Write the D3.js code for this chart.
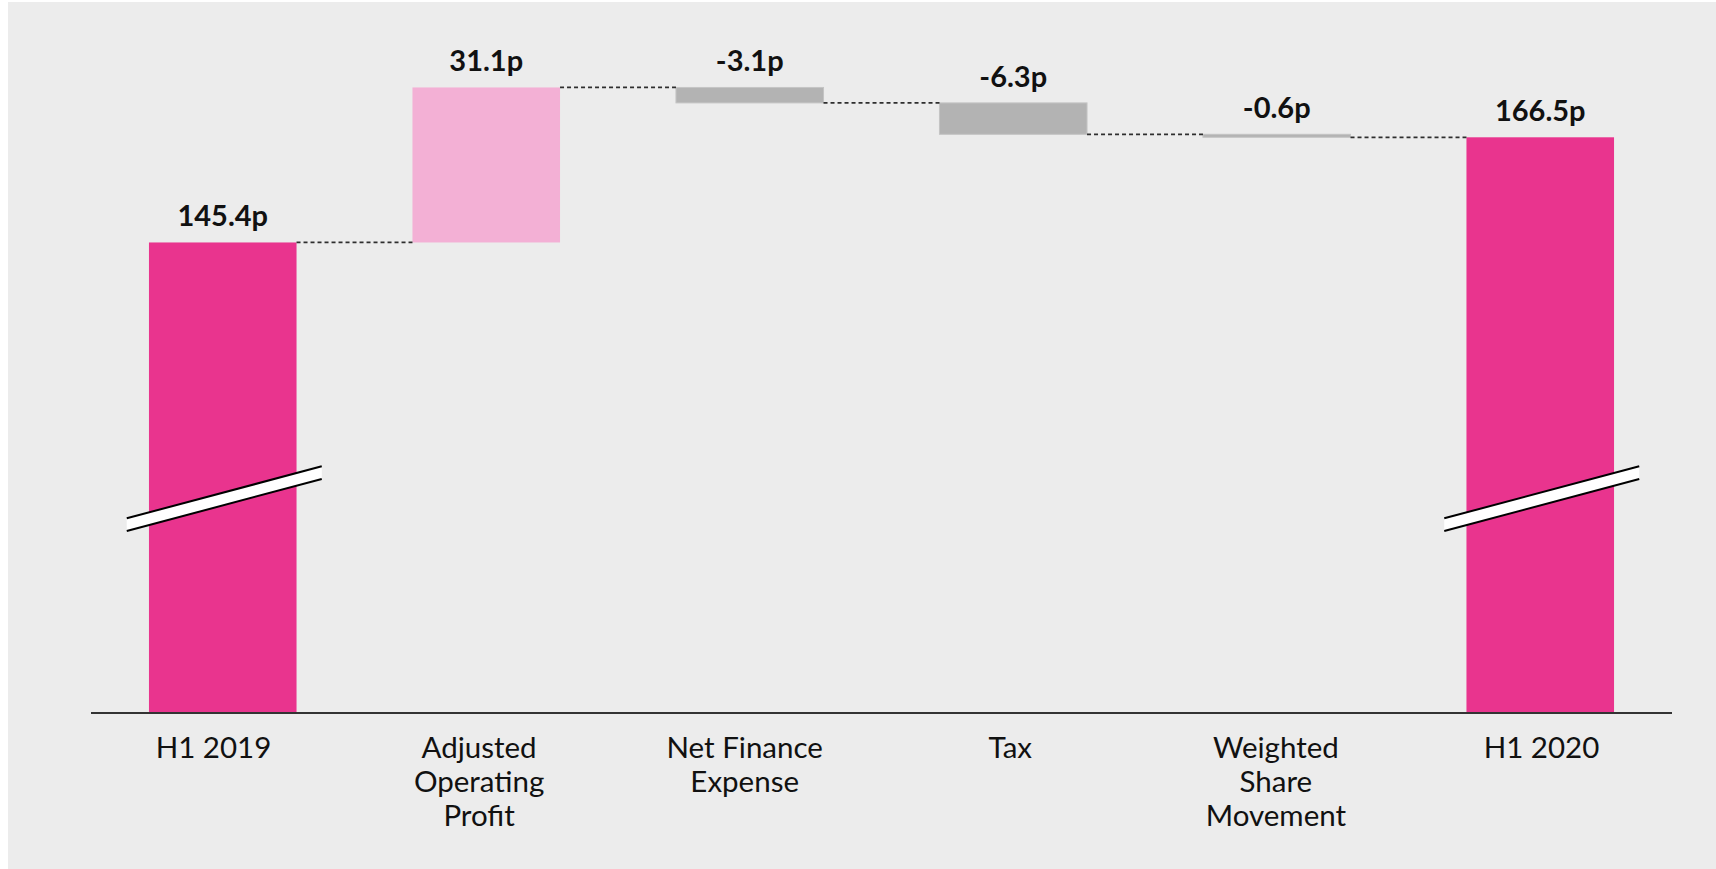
<!DOCTYPE html>
<html>
<head>
<meta charset="utf-8">
<script src="https://cdn.jsdelivr.net/npm/d3@7"></script>
<style>
  html, body { margin: 0; padding: 0; background: #ffffff; }
  svg { display: block; }
</style>
</head>
<body>
<svg id="chart" width="1716" height="869"></svg>
<script>
// Earnings per share bridge, H1 2019 to H1 2020 (pence)
const categories = [
  ["H1 2019"],
  ["Adjusted", "Operating", "Profit"],
  ["Net Finance", "Expense"],
  ["Tax"],
  ["Weighted", "Share", "Movement"],
  ["H1 2020"]
];
const stepTypes = ["total", "delta", "delta", "delta", "delta", "total"];
const values = [145.4, 31.1, -3.1, -6.3, -0.6, 166.5];
const valueLabels = ["145.4p", "31.1p", "-3.1p", "-6.3p", "-0.6p", "166.5p"];
const yDomain = [51, 180];   // axis is broken: baseline sits well above zero
const breakValue = 94;       // where the break symbol sits on the total bars

const colors = { total: "#e9348e", up: "#f3b0d5", down: "#b3b3b3" };

const W = 1716, H = 869;
const svg = d3.select("#chart");

// panel background
svg.append("rect")
  .attr("x", 8).attr("y", 2)
  .attr("width", W - 8).attr("height", H - 2)
  .attr("fill", "#ececec");

const x = d3.scaleBand()
  .domain(d3.range(categories.length))
  .range([91, 1672])
  .paddingInner(0.44)
  .paddingOuter(0.22);

// category labels sit on their own, slightly wider-spaced grid
const xLabel = d3.scalePoint()
  .domain(d3.range(categories.length))
  .range([213.5, 1541.5]);

const y = d3.scaleLinear()
  .domain(yDomain)
  .range([713, 70]);

// running totals -> floating segments
let running = 0;
const bars = values.map((v, i) => {
  let lo, hi, fill;
  if (stepTypes[i] === "total") {
    lo = yDomain[0]; hi = v; running = v; fill = colors.total;
  } else {
    const start = running;
    running = +(running + v).toFixed(1);
    lo = Math.min(start, running); hi = Math.max(start, running);
    fill = v >= 0 ? colors.up : colors.down;
  }
  return { i, lo, hi, fill, end: running, label: valueLabels[i], type: stepTypes[i] };
});

const g = svg.append("g");

// bars
g.selectAll("rect.bar")
  .data(bars)
  .join("rect")
  .attr("class", "bar")
  .attr("x", d => x(d.i))
  .attr("width", x.bandwidth())
  .attr("y", d => y(d.hi))
  .attr("height", d => Math.max(1, y(d.lo) - y(d.hi)))
  .attr("fill", d => d.fill)
  .attr("stroke", d => d.type === "delta" && d.fill === colors.down ? "#c4c4c4" : "none")
  .attr("stroke-width", 1);

// dashed connectors between consecutive bars
g.selectAll("line.connector")
  .data(bars.slice(0, -1))
  .join("line")
  .attr("class", "connector")
  .attr("x1", d => x(d.i) + x.bandwidth())
  .attr("x2", d => x(d.i + 1))
  .attr("y1", d => y(d.end))
  .attr("y2", d => y(d.end))
  .attr("stroke", "#2e2e2e")
  .attr("stroke-width", 1.8)
  .attr("stroke-dasharray", "4,3");

// value labels
g.selectAll("text.value")
  .data(bars)
  .join("text")
  .attr("class", "value")
  .attr("x", d => x(d.i) + x.bandwidth() / 2)
  .attr("y", d => y(d.hi) - 16)
  .attr("text-anchor", "middle")
  .attr("font-family", "Lato, 'Open Sans', sans-serif")
  .attr("font-weight", 700)
  .attr("font-size", 29)
  .attr("fill", "#111")
  .text(d => d.label);

// axis baseline
g.append("line")
  .attr("x1", x.range()[0]).attr("x2", x.range()[1])
  .attr("y1", y(yDomain[0])).attr("y2", y(yDomain[0]))
  .attr("stroke", "#333").attr("stroke-width", 2);

// category labels (multi-line)
const cat = g.selectAll("text.cat")
  .data(categories)
  .join("text")
  .attr("class", "cat")
  .attr("x", (d, i) => xLabel(i))
  .attr("y", 758)
  .attr("text-anchor", "middle")
  .attr("font-family", "Lato, 'Open Sans', sans-serif")
  .attr("font-size", 29.5)
  .attr("fill", "#111");
cat.selectAll("tspan")
  .data(d => d)
  .join("tspan")
  .attr("x", function () { return this.parentNode.getAttribute("x"); })
  .attr("dy", (d, j) => j === 0 ? 0 : 34)
  .text(d => d);

// axis-break symbols on the total bars
const breakHalfWidth = 97.5, breakRise = 52, breakGap = 12.7;
bars.filter(d => d.type === "total").forEach(d => {
  const cx = x(d.i) + x.bandwidth() / 2 + 1.5;
  const cy = y(breakValue);
  const x0 = cx - breakHalfWidth, x1 = cx + breakHalfWidth;
  const yl = cy + breakRise / 2, yr = cy - breakRise / 2;
  const top = [[x0, yl - breakGap / 2], [x1, yr - breakGap / 2]];
  const bot = [[x0, yl + breakGap / 2], [x1, yr + breakGap / 2]];
  g.append("path")
    .attr("d", d3.line()([top[0], top[1], bot[1], bot[0]]) + "Z")
    .attr("fill", "#ffffff");
  [top, bot].forEach(seg => {
    g.append("path")
      .attr("d", d3.line()(seg))
      .attr("stroke", "#000")
      .attr("stroke-width", 2)
      .attr("fill", "none");
  });
});
</script>
</body>
</html>
